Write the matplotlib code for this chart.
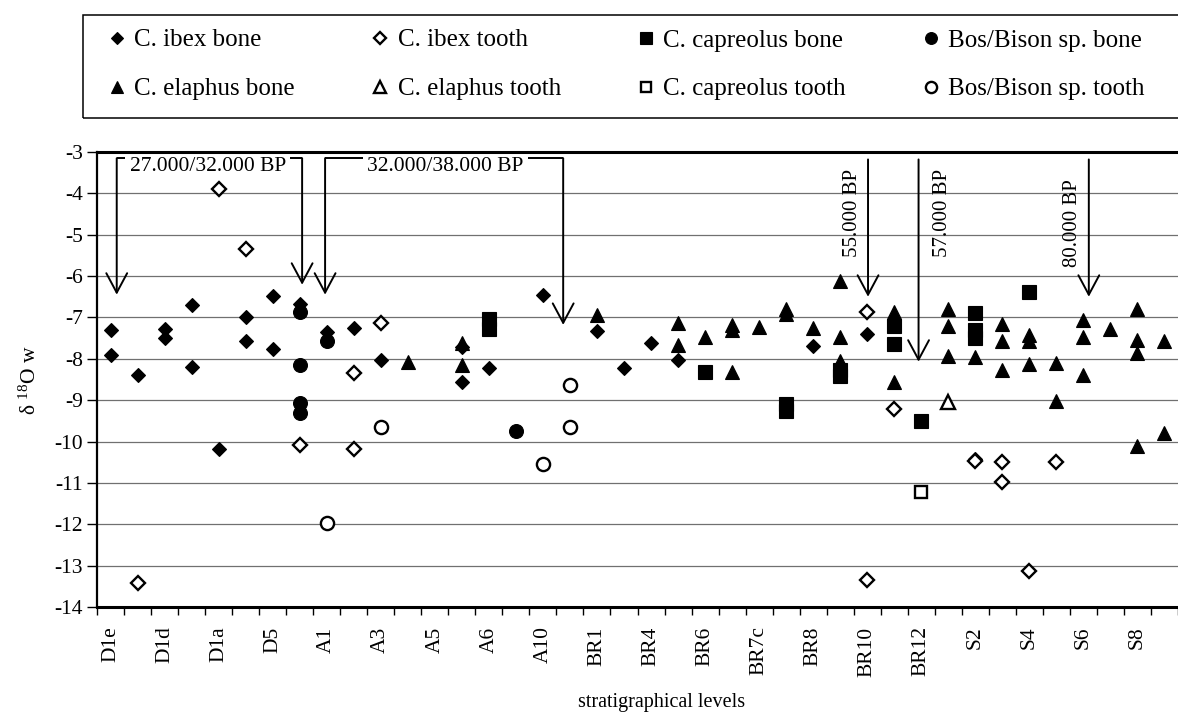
import matplotlib
matplotlib.use("Agg")
import matplotlib.pyplot as plt
from matplotlib.patches import Rectangle

plt.rcParams['font.family'] = ['Liberation Serif', 'DejaVu Serif']
plt.rcParams['mathtext.fontset'] = 'custom'
plt.rcParams['mathtext.rm'] = 'Liberation Serif'

# ---------------- data ----------------
n_levels = 40
tick_positions = list(range(0, 40, 2))
tick_labels = ["D1e", "D1d", "D1a", "D5", "A1", "A3", "A5", "A6", "A10", "BR1",
               "BR4", "BR6", "BR7c", "BR8", "BR10", "BR12", "S2", "S4", "S6", "S8"]

ibex_bone_x = [0, 0, 1, 2, 2, 3, 3, 4, 5, 5, 6, 6, 7, 8, 9, 10, 13, 13, 14, 16,
               18, 19, 20, 21, 26, 28, 32]
ibex_bone_y = [-7.30, -7.90, -8.39, -7.28, -7.49, -6.70, -8.19, -10.18, -6.98, -7.56,
               -6.48, -7.77, -6.67, -7.36, -7.25, -8.03, -7.72, -8.57, -8.22, -6.45,
               -7.33, -8.22, -7.62, -8.02, -7.70, -7.40, -10.42]

ibex_tooth_x = [1, 4, 5, 7, 9, 9, 10, 28, 28, 29, 32, 33, 33, 34, 35]
ibex_tooth_y = [-13.41, -3.89, -5.35, -10.08, -8.35, -10.17, -7.13, -6.87, -13.34,
                -9.22, -10.48, -10.50, -10.99, -13.12, -10.50]

capreolus_bone_x = [14, 14, 22, 25, 25, 27, 27, 29, 29, 30, 32, 32, 32, 34]
capreolus_bone_y = [-7.03, -7.27, -8.32, -9.10, -9.25, -8.28, -8.42, -7.20, -7.65,
                    -9.50, -6.90, -7.30, -7.50, -6.38]

capreolus_tooth_x = [30]
capreolus_tooth_y = [-11.23]

elaphus_bone_x = [11, 13, 13, 18, 21, 21, 22, 23, 23, 23, 24, 25, 25, 26, 27, 27, 27,
                  29, 29, 31, 31, 31, 32, 33, 33, 33, 34, 34, 34, 35, 35, 36, 36, 36,
                  37, 38, 38, 38, 38, 39, 39]
elaphus_bone_y = [-8.08, -7.62, -8.14, -6.94, -7.13, -7.66, -7.47, -7.18, -7.30, -8.31,
                  -7.22, -6.80, -6.92, -7.26, -6.12, -7.48, -8.05, -6.87, -8.55, -6.80,
                  -7.20, -7.93, -7.95, -7.17, -7.58, -8.28, -7.42, -7.58, -8.12, -8.10,
                  -9.01, -7.07, -7.47, -8.40, -7.28, -6.80, -7.55, -7.85, -10.10, -7.57,
                  -9.79]

elaphus_tooth_x = [31]
elaphus_tooth_y = [-9.04]

bison_bone_x = [7, 7, 7, 7, 8, 15]
bison_bone_y = [-6.86, -8.14, -9.07, -9.31, -7.56, -9.74]

bison_tooth_x = [8, 10, 16, 17, 17]
bison_tooth_y = [-11.96, -9.64, -10.54, -8.63, -9.64]

# ---------------- figure ----------------
W, H = 1178, 720
fig = plt.figure(figsize=(W / 100, H / 100), dpi=100)
ax_left, ax_right, ax_top, ax_bot = 97, 1178, 152, 607
ax = fig.add_axes([ax_left / W, 1 - ax_bot / H, (ax_right - ax_left) / W, (ax_bot - ax_top) / H])
ax.set_xlim(-0.5, n_levels - 0.5)
ax.set_ylim(-14, -3)

ax.set_yticks(range(-14, -2))
ax.set_yticklabels([str(v) for v in range(-14, -2)], fontsize=15.5)
ax.yaxis.grid(True, color='#707070', lw=0.9)
ax.set_axisbelow(True)
ax.tick_params(axis='y', direction='out', length=7, width=1, pad=3)

ax.set_xticks(tick_positions)
ax.set_xticklabels(tick_labels, rotation=90, fontsize=15.5, va='top', ha='center')
ax.set_xticks([i - 0.5 for i in range(n_levels + 1)], minor=True)
ax.tick_params(axis='x', which='major', length=0, pad=14)
ax.tick_params(axis='x', which='minor', direction='out', length=6, width=1)

ax.spines['right'].set_visible(False)
ax.spines['top'].set_linewidth(2.2)
ax.spines['bottom'].set_linewidth(2.2)
ax.spines['left'].set_linewidth(1.6)

common = dict(linestyle='none', markeredgecolor='black', zorder=3)
series = [
    ("C. ibex bone", ibex_bone_x, ibex_bone_y, 'D', 'black', 7.6),
    ("C. elaphus bone", elaphus_bone_x, elaphus_bone_y, '^', 'black', 10),
    ("C. ibex tooth", ibex_tooth_x, ibex_tooth_y, 'D', 'white', 7.2),
    ("C. elaphus tooth", elaphus_tooth_x, elaphus_tooth_y, '^', 'white', 9.5),
    ("C. capreolus bone", capreolus_bone_x, capreolus_bone_y, 's', 'black', 9.5),
    ("C. capreolus tooth", capreolus_tooth_x, capreolus_tooth_y, 's', 'white', 9.0),
    ("Bos/Bison sp. bone", bison_bone_x, bison_bone_y, 'o', 'black', 10),
    ("Bos/Bison sp. tooth", bison_tooth_x, bison_tooth_y, 'o', 'white', 9.5),
]
handles = []
for label, xs, ys, m, fc, ms in series:
    ew = 0.8 if fc == 'black' else 1.7
    h, = ax.plot(xs, ys, marker=m, markerfacecolor=fc, markersize=ms,
                 markeredgewidth=ew, label=label, **common)
    handles.append(h)

# ---------------- axis labels ----------------
fig.text(30 / W, 1 - 380 / H, r"δ $\mathregular{^{18}}$O w", rotation=90,
         fontsize=15.5, ha='center', va='center')
fig.text(662 / W, 1 - 703 / H, "stratigraphical levels", fontsize=14.5,
         ha='center', va='center')

# ---------------- age annotations ----------------
arrow_kw = dict(arrowstyle='->,head_length=1.4,head_width=0.75', lw=1.4,
                color='black', shrinkA=0, shrinkB=0)
line_kw = dict(color='black', lw=1.4, solid_capstyle='butt')
y_top = -3.15

# bracket 1
ax.plot([0.23, 0.55], [y_top, y_top], **line_kw)
ax.plot([6.65, 7.09], [y_top, y_top], **line_kw)
ax.text(3.62, y_top + 0.02, "27.000/32.000 BP", fontsize=15.5, ha='center', va='top')
ax.annotate('', xy=(0.23, -6.45), xytext=(0.23, y_top), arrowprops=arrow_kw)
ax.annotate('', xy=(7.09, -6.21), xytext=(7.09, y_top), arrowprops=arrow_kw)

# bracket 2
ax.plot([7.94, 9.35], [y_top, y_top], **line_kw)
ax.plot([15.45, 16.75], [y_top, y_top], **line_kw)
ax.text(12.4, y_top + 0.02, "32.000/38.000 BP", fontsize=15.5, ha='center', va='top')
ax.annotate('', xy=(7.94, -6.45), xytext=(7.94, y_top), arrowprops=arrow_kw)
ax.annotate('', xy=(16.75, -7.18), xytext=(16.75, y_top), arrowprops=arrow_kw)

# vertical arrows
for xa, ya, xt, yt, txt in [(28.03, -6.5, 27.45, -3.4, "55.000 BP"),
                             (29.9, -8.07, 30.8, -3.4, "57.000 BP"),
                             (36.2, -6.5, 35.6, -3.65, "80.000 BP")]:
    ax.annotate('', xy=(xa, ya), xytext=(xa, -3.18), arrowprops=arrow_kw)
    ax.text(xt, yt, txt, rotation=90, fontsize=15, ha='center', va='top')

# ---------------- legend ----------------
fig.patches.append(Rectangle((83 / W, 1 - 118 / H), (1200 - 83) / W, (118 - 15) / H,
                             transform=fig.transFigure, fill=False, edgecolor='black',
                             lw=1.1, figure=fig))
leg = fig.legend(handles=handles, ncol=4, loc='upper left',
                 bbox_to_anchor=(107 / W, 1 - 29 / H), frameon=False,
                 fontsize=18, handlelength=0.8, handletextpad=0.3,
                 columnspacing=3.0, labelspacing=1.05, borderpad=0, borderaxespad=0,
                 markerscale=0.85)

fig.savefig("out.png", dpi=100)
